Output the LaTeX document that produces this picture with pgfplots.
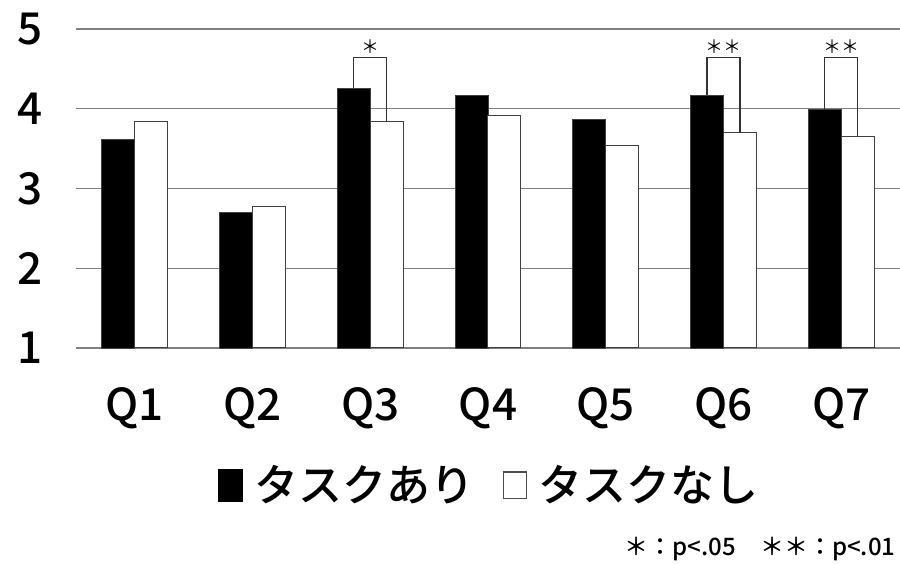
\documentclass[border=0pt]{standalone}
\usepackage{fontspec}
\setmainfont{Noto Sans CJK JP}
\IfFontExistsTF{Noto Sans CJK JP Medium}
  {\newfontfamily\medfont{Noto Sans CJK JP Medium}}
  {\newfontfamily\medfont{Noto Sans CJK JP}[FakeBold=2.5]}
\usepackage{pgfplots}
\pgfplotsset{compat=1.18}

\begin{document}
\begin{tikzpicture}
% fixed page frame around the plot area
\path[use as bounding box] (-38pt,-108.5pt) rectangle (412pt,174pt);
\begin{axis}[
  at={(0,0)}, anchor=south west,
  scale only axis, width=412pt, height=159.5pt,
  xmin=0.5, xmax=7.5, ymin=1, ymax=5,
  xtick={1,...,7}, xticklabels={Q1,Q2,Q3,Q4,Q5,Q6,Q7},
  ytick={1,2,3,4,5},
  ymajorgrids, grid style={draw=gray, line width=0.65pt},
  axis line style={draw=none}, tick style={draw=none},
  /pgf/number format/assume math mode=true,
  tick label style={font=\fontsize{22pt}{22pt}\medfont},
  y tick label style={anchor=center, xshift=-23pt},
  x tick label style={anchor=center, yshift=-30pt},
  clip=false,
  legend columns=2,
  legend style={draw=none, fill=none, at={(0.508,-0.43)}, anchor=center,
    font=\fontsize{22pt}{22pt}\medfont,
    /tikz/every even column/.append style={column sep=8pt},
    nodes={inner xsep=6pt},
    inner sep=0pt},
]
% task present
\addplot[ybar, bar width=0.28, bar shift=-0.14, fill=black, draw=gray!50!black, line width=0.4pt,
  legend image code/.code={\fill[black] (0pt,-8pt) rectangle (12pt,8pt);}]
  coordinates {(1,3.62) (2,2.70) (3,4.26) (4,4.17) (5,3.87) (6,4.17) (7,3.99)};
\addlegendentry{タスクあり}
% task absent
\addplot[ybar, bar width=0.28, bar shift=0.14, fill=white, draw=black!75, line width=0.5pt,
  legend image code/.code={\draw[gray!60!black, line width=0.6pt, fill=white] (0.3pt,-6.6pt) rectangle (11.7pt,6.6pt);}]
  coordinates {(1,3.84) (2,2.78) (3,3.84) (4,3.91) (5,3.54) (6,3.70) (7,3.65)};
\addlegendentry{タスクなし}
% significance brackets
\addplot[forget plot, sharp plot, mark=none, draw=black!80, line width=0.6pt]
  coordinates {(2.86,4.26) (2.86,4.64) (3.14,4.64) (3.14,3.84)};
\addplot[forget plot, sharp plot, mark=none, draw=black!80, line width=0.6pt]
  coordinates {(5.86,4.17) (5.86,4.64) (6.14,4.64) (6.14,3.70)};
\addplot[forget plot, sharp plot, mark=none, draw=black!80, line width=0.6pt]
  coordinates {(6.86,3.99) (6.86,4.64) (7.14,4.64) (7.14,3.65)};
\node[anchor=south, font=\fontsize{9pt}{9pt}\selectfont, inner sep=1pt] at (axis cs:3,4.66) {＊};
\node[anchor=south, font=\fontsize{9pt}{9pt}\selectfont, inner sep=1pt] at (axis cs:6,4.66) {＊＊};
\node[anchor=south, font=\fontsize{9pt}{9pt}\selectfont, inner sep=1pt] at (axis cs:7,4.66) {＊＊};
% significance key
\node[anchor=base east, font=\fontsize{12pt}{12pt}\medfont, inner sep=0pt] at (rel axis cs:0.995,-0.652) {＊：p<.05　＊＊：p<.01};
\end{axis}
\end{tikzpicture}
\end{document}
